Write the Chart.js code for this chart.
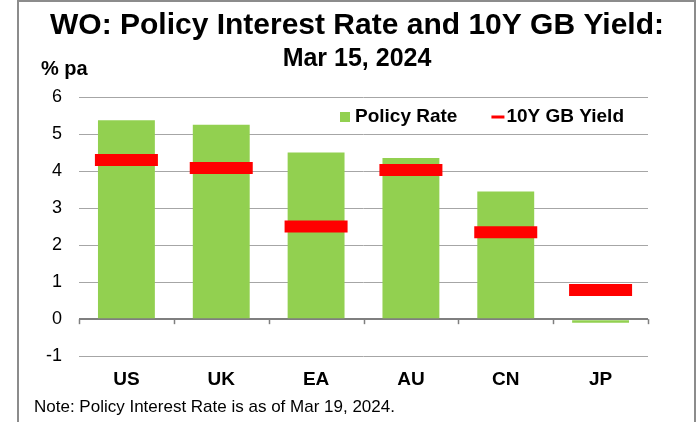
<!DOCTYPE html>
<html lang="en"><head><meta charset="UTF-8">
<title>WO: Policy Interest Rate and 10Y GB Yield</title>
<script src="https://cdn.jsdelivr.net/npm/chart.js"></script>
<style>
    body { margin: 0; background: #ffffff; }
    #wrap { position: relative; width: 698px; height: 422px; }
</style>
</head>
<body>
<div id="wrap"><canvas id="chart" width="698" height="422"></canvas></div>
<script>
    // data (Mar 15, 2024)
    const countries = ["US", "UK", "EA", "AU", "CN", "JP"];
    const policyRate = [5.375, 5.25, 4.50, 4.35, 3.45, -0.10];
    const bondYield = [4.30, 4.08, 2.50, 4.03, 2.35, 0.79];
    const yTicks = [-1, 0, 1, 2, 3, 4, 5, 6];

    const FONT = "'Liberation Sans', Arial, sans-serif";
    const GREEN = "#92D050";
    const RED = "#FF0000";

    // frame, unit label, note, custom legend and the zero-line ticks
    const extras = {
        id: "extras",
        beforeDraw(chart) {
            const c = chart.ctx;
            c.save();
            c.fillStyle = "#fff";
            c.fillRect(0, 0, chart.width, chart.height);
            c.strokeStyle = "#8c8c8c";
            c.lineWidth = 2;
            c.strokeRect(18, 1, 677, 440);
            c.restore();
        },
        afterDraw(chart) {
            const c = chart.ctx;
            const area = chart.chartArea;
            const xs = chart.scales.x;
            const ys = chart.scales.y;
            c.save();
            // ticks under the zero line at category edges
            const zeroY = ys.getPixelForValue(0);
            const step = (xs.right - xs.left) / countries.length;
            c.strokeStyle = "#7f7f7f";
            c.lineWidth = 1.5;
            for (let i = 0; i <= countries.length; i++) {
                const x = Math.round(xs.left + i * step) + 0.5;
                c.beginPath();
                c.moveTo(x, zeroY);
                c.lineTo(x, zeroY + 5);
                c.stroke();
            }
            // unit label
            c.fillStyle = "#000";
            c.textBaseline = "middle";
            c.font = "bold 20px " + FONT;
            c.fillText("% pa", 41, 69);
            // note
            c.font = "17px " + FONT;
            c.fillText("Note: Policy Interest Rate is as of Mar 19, 2024.", 34, 407);
            // legend inside the plot
            c.font = "bold 19px " + FONT;
            let x = area.left + 261;
            const ly = 117;
            chart.data.datasets.slice().reverse().forEach(ds => {
                if (ds.type === "line") {
                    c.fillStyle = ds.borderColor;
                    c.fillRect(x, ly - 1.5, 13, 3);
                    x += 15;
                } else {
                    c.fillStyle = ds.backgroundColor;
                    c.fillRect(x, ly - 5, 10, 10);
                    x += 15;
                }
                c.fillStyle = "#000";
                c.fillText(ds.label, x, ly);
                x += c.measureText(ds.label).width + 34;
            });
            c.restore();
        }
    };

    new Chart(document.getElementById("chart"), {
        type: "bar",
        data: {
            labels: countries,
            datasets: [
                {
                    type: "line",
                    label: "10Y GB Yield",
                    data: bondYield,
                    showLine: false,
                    borderColor: RED,
                    backgroundColor: RED,
                    borderWidth: 3,
                    pointStyle: "line",
                    pointRadius: 31.5,
                    pointHoverRadius: 31.5,
                    pointBorderWidth: 12,
                    pointBorderColor: RED,
                    order: 0
                },
                {
                    type: "bar",
                    label: "Policy Rate",
                    data: policyRate,
                    backgroundColor: GREEN,
                    borderWidth: 0,
                    barPercentage: 0.6,
                    categoryPercentage: 1.0,
                    order: 1
                }
            ]
        },
        options: {
            responsive: false,
            animation: false,
            layout: { padding: { left: 18, right: 2, top: 0, bottom: 27 } },
            plugins: {
                legend: { display: false },
                tooltip: { enabled: false },
                title: {
                    display: true,
                    text: "WO: Policy Interest Rate and 10Y GB Yield:",
                    color: "#000",
                    font: { family: FONT, size: 30, weight: "bold" },
                    padding: { top: 8, bottom: 0 }
                },
                subtitle: {
                    display: true,
                    text: "Mar 15, 2024",
                    color: "#000",
                    font: { family: FONT, size: 25, weight: "bold" },
                    padding: { top: 0, bottom: 23 }
                }
            },
            scales: {
                x: {
                    grid: { display: false },
                    border: { display: false },
                    ticks: {
                        color: "#000",
                        padding: 4,
                        font: { family: FONT, size: 19, weight: "bold" }
                    }
                },
                y: {
                    min: -1,
                    max: 6,
                    afterBuildTicks: s => { s.ticks = yTicks.map(v => ({ value: v })); },
                    afterFit: s => { s.width = 61; },
                    border: { display: false },
                    grid: {
                        drawTicks: false,
                        color: ctx => ctx.tick.value === 0 ? "#7f7f7f" : "#a6a6a6",
                        lineWidth: ctx => ctx.tick.value === 0 ? 2 : 1
                    },
                    ticks: {
                        color: "#000",
                        padding: 17,
                        font: { family: FONT, size: 18 }
                    }
                },
                yRight: {
                    position: "right",
                    min: -1,
                    max: 6,
                    afterFit: s => { s.width = 48; },
                    grid: { display: false },
                    border: { display: false },
                    ticks: { display: false }
                }
            }
        },
        plugins: [extras]
    });
</script>
</body>
</html>
